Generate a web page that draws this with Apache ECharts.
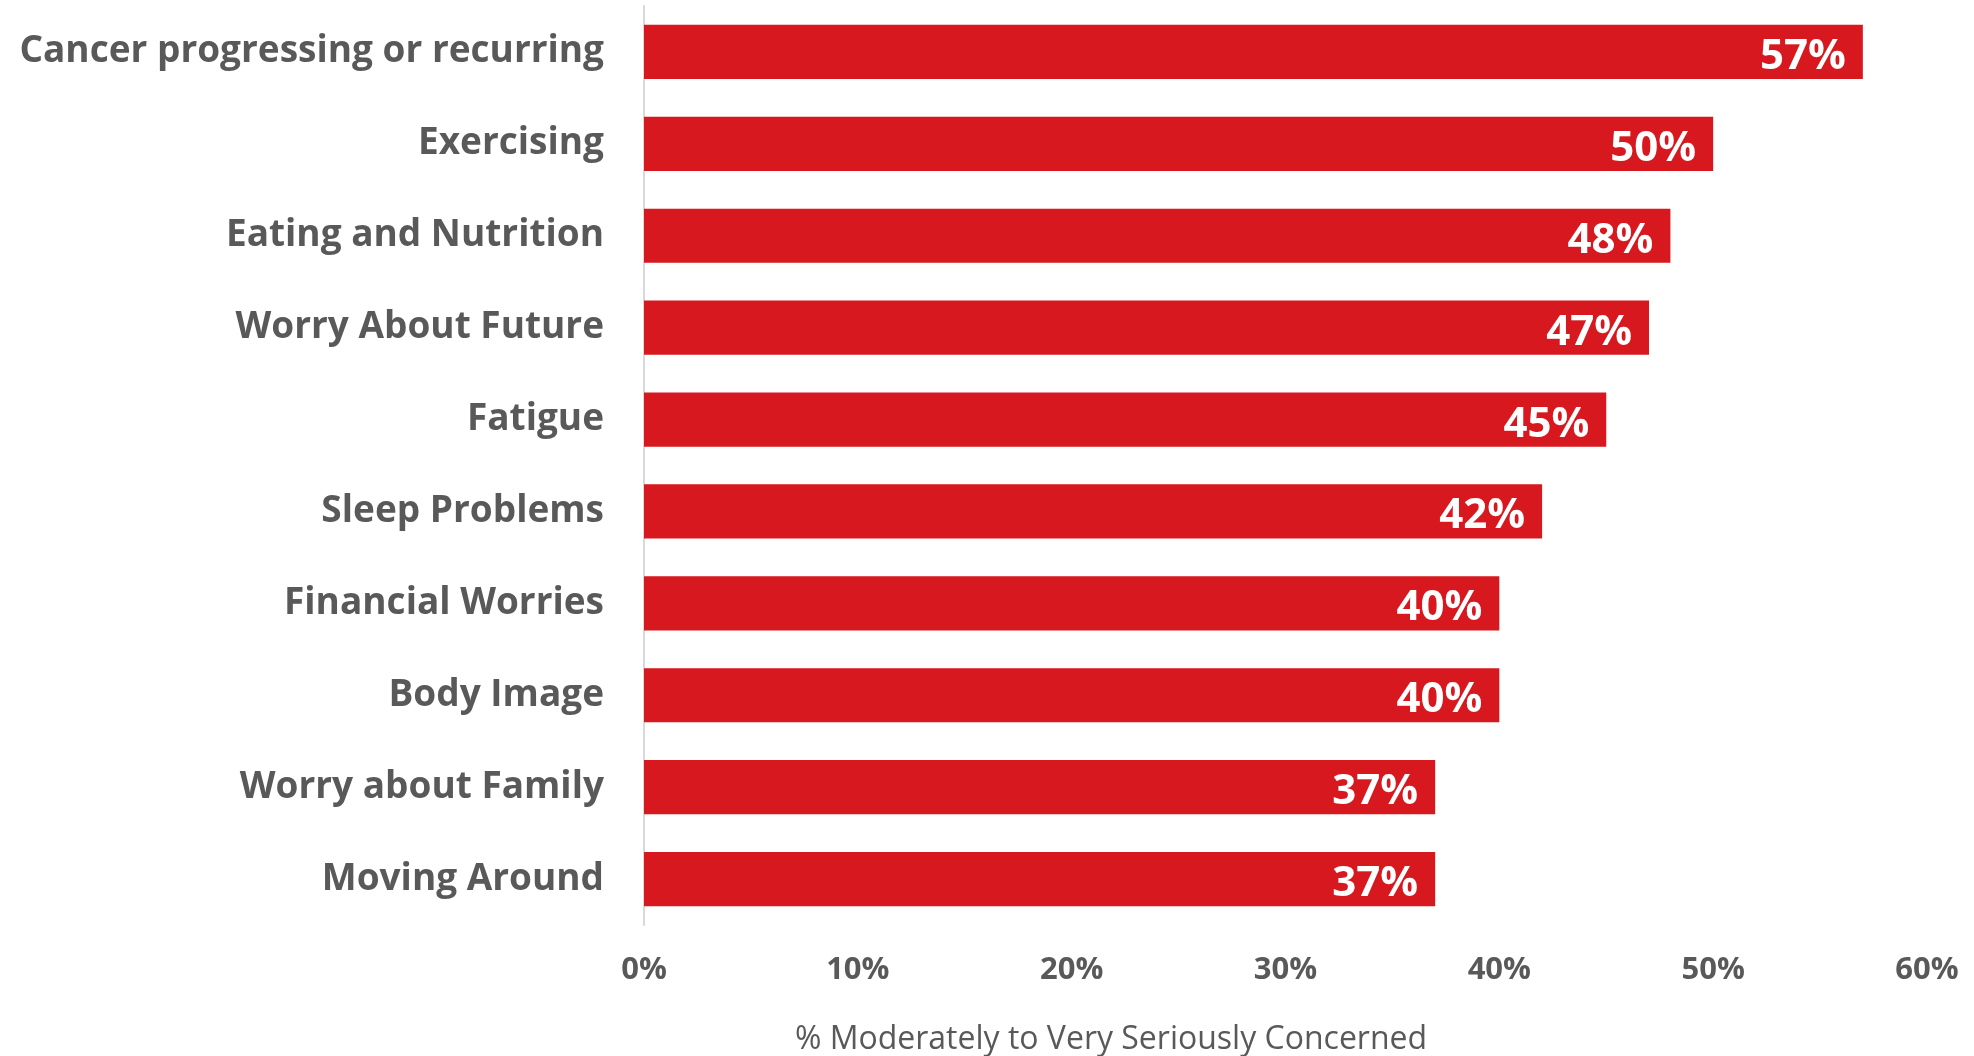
<!DOCTYPE html>
<html><head><meta charset="utf-8">
<script src="https://cdn.jsdelivr.net/npm/echarts@6/dist/echarts.min.js"></script>
<style>html,body{margin:0;padding:0;background:#fff}#c{width:1974px;height:1056px}</style>
</head><body><div id="c"></div>
<script>
const categories = ["Cancer progressing or recurring","Exercising","Eating and Nutrition","Worry About Future","Fatigue","Sleep Problems","Financial Worries","Body Image","Worry about Family","Moving Around"];
const values = [57,50,48,47,45,42,40,40,37,37];
const axisTitle = "% Moderately to Very Seriously Concerned";

const chart = echarts.init(document.getElementById('c'));
chart.setOption({
  animation:false,
  grid:{left:644,right:47,top:6,bottom:131,containLabel:false},
  title:{text:axisTitle,left:1106,top:1019,textAlign:'center',
    textStyle:{fontFamily:'Open Sans',fontSize:32,fontWeight:'normal',color:'#595959'}},
  xAxis:{type:'value',min:0,max:60,interval:10,
    axisLabel:{formatter:'{value}%',fontFamily:'Open Sans',fontWeight:'bold',fontSize:31,color:'#595959',margin:30},
    splitLine:{show:false},axisLine:{show:false},axisTick:{show:false}},
  yAxis:{type:'category',data:categories,inverse:true,
    axisLine:{show:true,lineStyle:{color:'#d9d9d9',width:2}},axisTick:{show:false},
    axisLabel:{fontFamily:'Open Sans',fontWeight:'bold',fontSize:37,color:'#595959',margin:40,padding:[5,0,0,0]}},
  series:[{type:'bar',data:values,barWidth:'59%',itemStyle:{color:'#d7181f'},
    label:{show:true,position:'insideRight',formatter:'{c}%',offset:[-12,5],color:'#fff',
      fontFamily:'Open Sans',fontWeight:'bold',fontSize:42}}]
});
</script></body></html>
